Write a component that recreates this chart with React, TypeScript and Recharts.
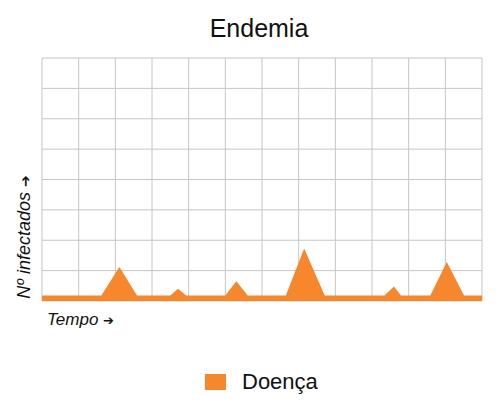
import React from "react";
import { AreaChart, Area, XAxis, YAxis, CartesianGrid } from "recharts";

const timePoints = [0, 1.62, 2.11, 2.59, 3.5, 3.71, 3.93, 5.0, 5.3, 5.61, 6.65, 7.15, 7.71, 9.34, 9.6, 9.79, 10.59, 11.04, 11.51, 12];
const infected = [0.18, 0.18, 1.12, 0.18, 0.18, 0.4, 0.18, 0.18, 0.65, 0.18, 0.18, 1.73, 0.18, 0.18, 0.48, 0.18, 0.18, 1.28, 0.18, 0.18];
const xTicks = [0, 1, 2, 3, 4, 5, 6, 7, 8, 9, 10, 11, 12];
const yTicks = [0, 1, 2, 3, 4, 5, 6, 7, 8];
const seriesName = "Doença";
const title = "Endemia";
const xLabel = "Tempo";
const yLabel = "Nº infectados";

const data = timePoints.map((t, i) => ({ t, v: infected[i] }));

const ORANGE = "#F6872C";
const FONT = "'Liberation Sans', Arial, 'DejaVu Sans', sans-serif";
const NoTick = () => <g />;

export default function App() {
  return (
    <div style={{ position: "absolute", left: 0, top: 0, width: 500, height: 416, background: "#fff", fontFamily: FONT }}>
      <div style={{ position: "absolute", left: 0, width: 518, top: 14, textAlign: "center", fontSize: 25, color: "#111" }}>{title}</div>
      <AreaChart width={500} height={416} data={data} margin={{ top: 58, right: 18, left: 41, bottom: 114 }}>
        <CartesianGrid stroke="#c6c6c6" strokeWidth={1} />
        <XAxis dataKey="t" type="number" domain={[0, 12]} ticks={xTicks} interval={0} tick={NoTick} axisLine={false} tickLine={false} height={1} />
        <YAxis type="number" domain={[0, 8]} ticks={yTicks} interval={0} tick={NoTick} axisLine={false} tickLine={false} width={1} />
        <Area type="linear" dataKey="v" name={seriesName} stroke="none" fill={ORANGE} fillOpacity={1} isAnimationActive={false} />
      </AreaChart>
      <div style={{ position: "absolute", left: 205, top: 369, display: "flex", alignItems: "center", whiteSpace: "nowrap" }}>
        <span style={{ display: "inline-block", width: 21, height: 16, background: ORANGE, marginRight: 16 }} />
        <span style={{ fontSize: 22, color: "#111" }}>{seriesName}</span>
      </div>
      <div style={{ position: "absolute", left: 47, top: 310, fontSize: 17, fontStyle: "italic", color: "#111", whiteSpace: "nowrap" }}>
        {xLabel} <span style={{ fontStyle: "normal", fontSize: 13, fontFamily: "'DejaVu Sans', sans-serif" }}>➔</span>
      </div>
      <div style={{ position: "absolute", left: 24, top: 237, transform: "translate(-50%, -50%) rotate(-90deg)", fontSize: 18, fontStyle: "italic", color: "#111", whiteSpace: "nowrap" }}>
        {yLabel} <span style={{ fontStyle: "normal", fontSize: 14, fontFamily: "'DejaVu Sans', sans-serif" }}>➔</span>
      </div>
    </div>
  );
}
